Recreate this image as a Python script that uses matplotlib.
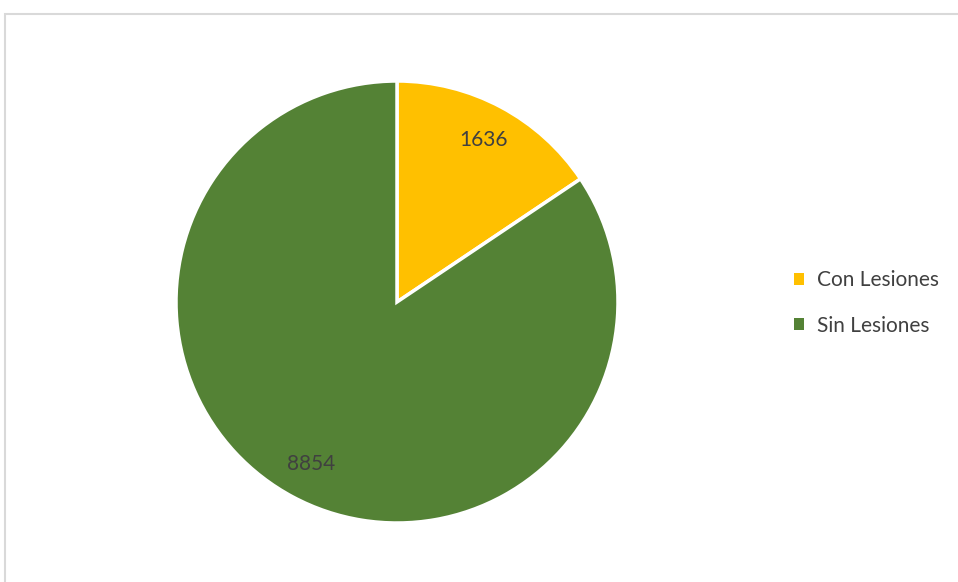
import matplotlib
matplotlib.use("Agg")
import matplotlib.pyplot as plt
from matplotlib.patches import Rectangle, Patch

categories = ["Con Lesiones", "Sin Lesiones"]
values = [1636, 8854]
colors = ["#FFC000", "#548235"]

W, H = 958, 582
fig = plt.figure(figsize=(W / 100, H / 100), dpi=100)
fig.patch.set_facecolor("white")

# chart frame (open at the right and bottom edges)
fig.add_artist(Rectangle((5 / W, -0.1), 1.0, 1.1 - 14 / H, transform=fig.transFigure,
                         facecolor="none", edgecolor="#d9d9d9", linewidth=1.5,
                         zorder=-1))

cx, cy, r = 397, 302, 221
ax = fig.add_axes([(cx - r) / W, (H - cy - r) / H, 2 * r / W, 2 * r / H])
ax.set_aspect("equal")

wedges, texts = ax.pie(values, colors=colors, startangle=90, counterclock=False,
                       labels=[str(v) for v in values], labeldistance=0.83,
                       radius=1.0, wedgeprops=dict(edgecolor="white", linewidth=2.5),
                       textprops=dict(fontsize=15, color="#404040", family="Lato"))
for t in texts:
    t.set_horizontalalignment("center")
    t.set_verticalalignment("center")
ax.set_xlim(-1, 1)
ax.set_ylim(-1, 1)

handles = [Patch(facecolor=c, edgecolor="none") for c in colors]
fig.legend(handles, categories, loc="center left", bbox_to_anchor=(775 / W, 1 - 303 / H),
           frameon=False, handlelength=0.5, handleheight=0.5, handletextpad=0.6,
           labelspacing=1.2, prop=dict(family="Lato", size=15), labelcolor="#404040")

fig.savefig("out.png", dpi=100, facecolor="white")
